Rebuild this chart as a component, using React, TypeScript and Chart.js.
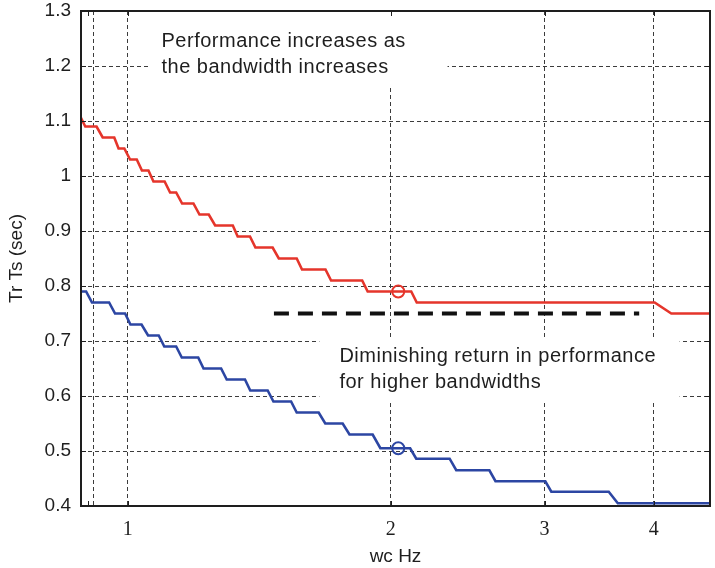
import React, { useEffect, useRef } from 'react';
import { Chart, registerables } from 'chart.js';

Chart.register(...registerables);

// ---------- data ----------
const redWc = [0.880, 0.894, 0.921, 0.936, 0.965, 0.976, 0.991, 1.006, 1.024, 1.038, 1.056, 1.070, 1.102, 1.118, 1.136, 1.154, 1.189, 1.208, 1.238, 1.259, 1.319, 1.336, 1.380, 1.400, 1.465, 1.489, 1.561, 1.583, 1.684, 1.709, 1.855, 1.882, 2.111, 2.142, 4.01, 4.19, 4.66];
const redTime = [1.112, 1.09, 1.09, 1.07, 1.07, 1.05, 1.05, 1.03, 1.03, 1.01, 1.01, 0.99, 0.99, 0.97, 0.97, 0.95, 0.95, 0.93, 0.93, 0.91, 0.91, 0.89, 0.89, 0.87, 0.87, 0.85, 0.85, 0.83, 0.83, 0.81, 0.81, 0.79, 0.79, 0.77, 0.77, 0.75, 0.75];

const blueWc = [0.880, 0.896, 0.910, 0.952, 0.967, 0.993, 1.007, 1.037, 1.055, 1.085, 1.101, 1.136, 1.153, 1.204, 1.221, 1.279, 1.298, 1.362, 1.381, 1.446, 1.468, 1.538, 1.561, 1.654, 1.683, 1.762, 1.794, 1.907, 1.946, 2.105, 2.139, 2.336, 2.377, 2.594, 2.636, 3.006, 3.054, 3.553, 3.639, 4.66];
const blueTime = [0.79, 0.79, 0.77, 0.77, 0.75, 0.75, 0.73, 0.73, 0.71, 0.71, 0.69, 0.69, 0.67, 0.67, 0.65, 0.65, 0.63, 0.63, 0.61, 0.61, 0.59, 0.59, 0.57, 0.57, 0.55, 0.55, 0.53, 0.53, 0.505, 0.505, 0.486, 0.486, 0.465, 0.465, 0.445, 0.445, 0.426, 0.426, 0.405, 0.405];

const markerWc = [2.04];
const redMarkerTime = [0.79];
const blueMarkerTime = [0.505];

const limitWc = [1.47, 3.85];
const limitTime = [0.75, 0.75];

const xTickValues = [1, 2, 3, 4];
const xTickLabels = ['1', '2', '3', '4'];
const xMinorTicks = [0.9];
const xExtraGrid = [0.914];

const yTickValues = [0.4, 0.5, 0.6, 0.7, 0.8, 0.9, 1.0, 1.1, 1.2, 1.3];
const yTickLabels = ['0.4', '0.5', '0.6', '0.7', '0.8', '0.9', '1', '1.1', '1.2', '1.3'];

const noteTop = ['Performance increases as', 'the bandwidth increases'];
const noteBottom = ['Diminishing return in performance', 'for higher bandwidths'];

// ---------- layout / style (data coords for note boxes) ----------
const noteTopBox = { x0: 1.058, x1: 2.323, y0: 1.16, y1: 1.3, tx: 1.093, ty: [1.235, 1.188] };
const noteBottomBox = { x0: 1.657, x1: 4.283, y0: 0.5927, y1: 0.7055, tx: 1.747, ty: [0.6624, 0.6151] };

const SANS = '"Liberation Sans", Arial, Helvetica, sans-serif';
const SERIF = '"Liberation Serif", "Times New Roman", serif';
const INK = '#1e1e1e';
const GRID = '#3c3c3c';

const pts = (xs: number[], ys: number[]) => xs.map((x, i) => ({ x, y: ys[i] }));

const framePlugin = {
  id: 'frame',
  beforeDatasetsDraw(chart: any) {
    const { ctx } = chart;
    const xs = chart.scales.x;
    const ys = chart.scales.y;
    const drawNote = (box: any, lines: string[]) => {
      const l = xs.getPixelForValue(box.x0);
      const r = xs.getPixelForValue(box.x1);
      const t = ys.getPixelForValue(box.y1);
      const b = ys.getPixelForValue(box.y0);
      ctx.save();
      ctx.fillStyle = '#ffffff';
      ctx.fillRect(l, t, r - l, b - t);
      ctx.fillStyle = INK;
      ctx.font = `20px ${SANS}`;
      try { (ctx as any).letterSpacing = '0.5px'; } catch (e) {}
      ctx.textBaseline = 'alphabetic';
      ctx.textAlign = 'left';
      const tx = xs.getPixelForValue(box.tx);
      lines.forEach((line, i) => {
        ctx.fillText(line, tx, ys.getPixelForValue(box.ty[i]));
      });
      ctx.restore();
    };
    drawNote(noteTopBox, noteTop);
    drawNote(noteBottomBox, noteBottom);
  },
  afterDatasetsDraw(chart: any) {
    const { ctx, chartArea: a } = chart;
    const xs = chart.scales.x;
    const ys = chart.scales.y;
    const tl = 5;
    ctx.save();
    ctx.strokeStyle = INK;
    ctx.lineWidth = 1;
    ctx.setLineDash([]);
    ctx.beginPath();
    [...xMinorTicks, ...xTickValues].forEach((v) => {
      const px = Math.round(xs.getPixelForValue(v)) + 0.5;
      ctx.moveTo(px, a.bottom);
      ctx.lineTo(px, a.bottom - tl);
      ctx.moveTo(px, a.top);
      ctx.lineTo(px, a.top + tl);
    });
    yTickValues.forEach((v) => {
      const py = Math.round(ys.getPixelForValue(v)) + 0.5;
      ctx.moveTo(a.left, py);
      ctx.lineTo(a.left + tl, py);
      ctx.moveTo(a.right, py);
      ctx.lineTo(a.right - tl, py);
    });
    ctx.stroke();
    ctx.lineWidth = 2;
    ctx.strokeRect(a.left, a.top, a.right - a.left, a.bottom - a.top);
    ctx.restore();
  },
};

const zeroPad = (s: any) => {
  s.paddingTop = 0;
  s.paddingBottom = 0;
  s.paddingLeft = 0;
  s.paddingRight = 0;
};

export default function App() {
  const ref = useRef<HTMLCanvasElement | null>(null);

  useEffect(() => {
    if (!ref.current) return;
    const chart = new Chart(ref.current, {
      type: 'line',
      data: {
        datasets: [
          { label: 'Tr', data: pts(redWc, redTime), borderColor: '#e5352b', borderWidth: 2.6, pointRadius: 0, tension: 0, clip: 0 },
          { label: 'Ts', data: pts(blueWc, blueTime), borderColor: '#2c46a3', borderWidth: 2.6, pointRadius: 0, tension: 0, clip: 0 },
          { label: 'limit', data: pts(limitWc, limitTime), borderColor: '#111111', borderWidth: 4, borderDash: [15, 9], pointRadius: 0 },
          { label: 'Tr chosen', data: pts(markerWc, redMarkerTime), showLine: false, pointRadius: 6, pointBorderWidth: 2, pointBorderColor: '#e5352b', pointBackgroundColor: 'rgba(0,0,0,0)' },
          { label: 'Ts chosen', data: pts(markerWc, blueMarkerTime), showLine: false, pointRadius: 6, pointBorderWidth: 2, pointBorderColor: '#2c46a3', pointBackgroundColor: 'rgba(0,0,0,0)' },
        ],
      } as any,
      options: {
        responsive: false,
        animation: false,
        events: [],
        layout: { autoPadding: false, padding: { top: 11, right: 5, left: 0, bottom: 0 } },
        plugins: { legend: { display: false }, tooltip: { enabled: false } },
        scales: {
          x: {
            type: 'logarithmic',
            min: 0.884,
            max: 4.64,
            afterBuildTicks: (s: any) => {
              s.ticks = [...xMinorTicks, ...xExtraGrid, ...xTickValues].map((v) => ({ value: v }));
            },
            afterFit: (s: any) => {
              s.height = 62;
              zeroPad(s);
            },
            ticks: {
              autoSkip: false, maxRotation: 0, minRotation: 0, padding: 12, color: INK,
              font: { family: SERIF, size: 20 },
              callback: (v: any) => {
                const i = xTickValues.indexOf(Number(v));
                return i >= 0 ? xTickLabels[i] : '';
              },
            },
            grid: {
              drawTicks: false, lineWidth: 1,
              color: (c: any) => c.tick && [...xTickValues, ...xExtraGrid].includes(c.tick.value) ? GRID : 'rgba(0,0,0,0)',
            },
            border: { display: false, dash: [4, 3] },
            title: { display: true, text: 'wc Hz', color: INK, font: { family: SANS, size: 19 }, padding: { top: 0, bottom: 0 } },
          },
          y: {
            type: 'linear',
            min: 0.4,
            max: 1.3,
            afterBuildTicks: (s: any) => {
              s.ticks = yTickValues.map((v) => ({ value: v }));
            },
            afterFit: (s: any) => {
              s.width = 81;
              zeroPad(s);
            },
            ticks: { padding: 10, color: INK, font: { family: SANS, size: 19 }, callback: (_v: any, i: number) => yTickLabels[i] },
            grid: { drawTicks: false, lineWidth: 1, color: GRID },
            border: { display: false, dash: [4, 3] },
            title: { display: true, text: 'Tr Ts (sec)', color: INK, font: { family: SANS, size: 19 }, padding: { top: 5, bottom: 0 } },
          },
        },
      } as any,
      plugins: [framePlugin],
    });
    return () => chart.destroy();
  }, []);

  return (
    <div style={{ position: 'fixed', left: 0, top: 0, width: 715, height: 568, background: '#fff' }}>
      <canvas ref={ref} width={715} height={568} style={{ display: 'block' }} />
    </div>
  );
}
